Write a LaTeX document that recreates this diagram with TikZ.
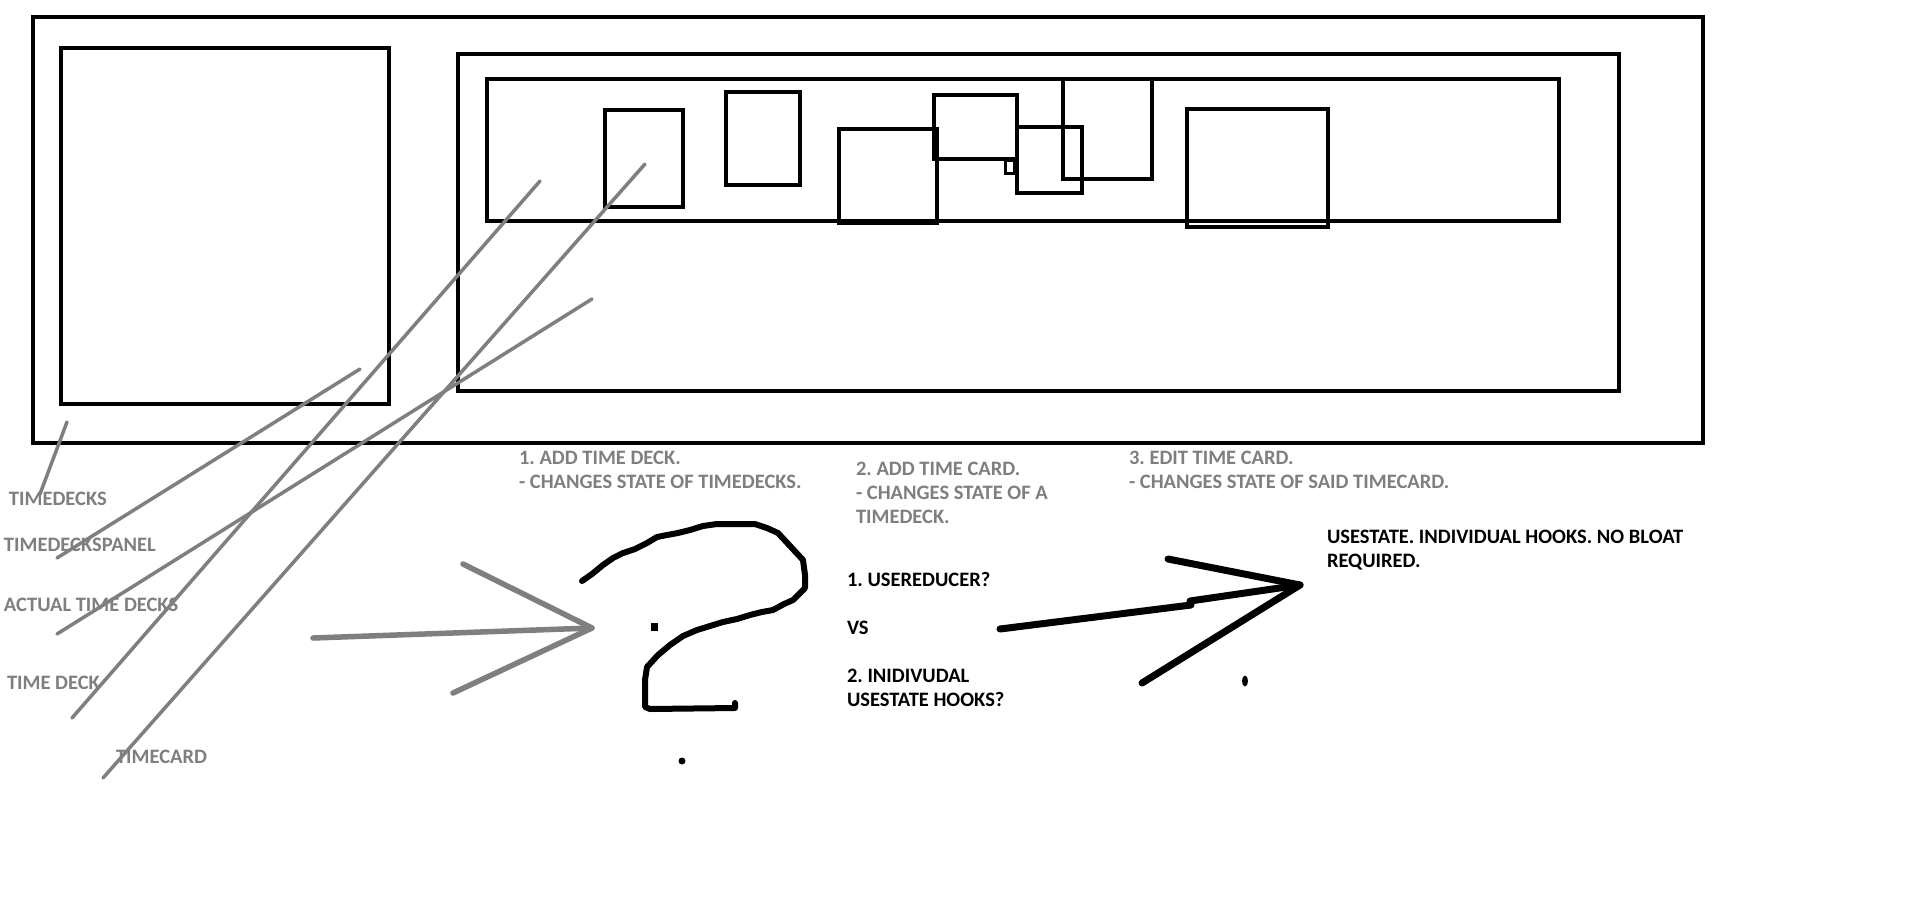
\documentclass[tikz,border=0pt]{standalone}
\usepackage{fontspec}
\setmainfont{Carlito}
\definecolor{pgray}{RGB}{127,127,127}
\tikzset{
  box/.style={draw=black, line width=4.5pt},
  smallbox/.style={draw=black, line width=3pt},
  pointer/.style={draw=pgray, line width=3.5pt, line cap=round},
  grayarrow/.style={draw=pgray, line width=5.5pt, line cap=round, line join=round},
  blackarrow/.style={draw=black, line width=7pt, line cap=round, line join=round},
  qmark/.style={draw=black, line width=6pt, line cap=round, line join=round},
  lbl/.style={font=\fontsize{20.5}{24}\selectfont\bfseries\frenchspacing, anchor=base west, inner sep=0pt, outer sep=0pt},
  glabel/.style={lbl, text=pgray},
  blabel/.style={lbl, text=black}
}
\begin{document}
\begin{tikzpicture}[x=1pt,y=-1pt]
\fill[white] (0,0) rectangle (1914,903);
\useasboundingbox (0,0) rectangle (1914,903);

% frames
\draw[box] (33,17) rectangle (1703,443);
\draw[box] (61,48) rectangle (389,404);
\draw[box] (458,54) rectangle (1619,391);
\draw[box] (487,79) rectangle (1559,221);
% cards in the strip
\draw[box] (605,110) rectangle (683,207);
\draw[box] (726,92) rectangle (800,185);
\draw[box] (839,129) rectangle (937,223);
\draw[box] (934,95) rectangle (1017,159);
\draw[smallbox] (1005,160) rectangle (1014,173);
\draw[box] (1017,127) rectangle (1082,193);
\draw[box] (1063,79) rectangle (1152,179);
\draw[box] (1187,109) rectangle (1328,227);

% labels
\node[glabel] (l1) at (9,505) {TIMEDECKS};
\node[glabel] (l2) at (4,551) {TIMEDECKSPANEL};
\node[glabel] (l3) at (4,611) {ACTUAL TIME DECKS};
\node[glabel] (l4) at (7,689) {TIME DECK};
\node[glabel] (l5) at (116,763) {TIMECARD};

% pointer ends
\coordinate (p1a) at (67,422);  \coordinate (p1b) at (40,494);
\coordinate (p2a) at (360,369); \coordinate (p2b) at (57,558);
\coordinate (p3a) at (592,299); \coordinate (p3b) at (57,634);
\coordinate (p4a) at (540,181); \coordinate (p4b) at (72,718);
\coordinate (p5a) at (645,164); \coordinate (p5b) at (103,778);
\draw[pointer] (p1a) -- (p1b);
\draw[pointer] (p2a) -- (p2b);
\draw[pointer] (p3a) -- (p3b);
\draw[pointer] (p4a) -- (p4b);
\draw[pointer] (p5a) -- (p5b);

% step texts
\node[glabel] (s1a) at (519,464) {1. ADD TIME DECK.};
\node[glabel] (s1b) at (519,488) {- CHANGES STATE OF TIMEDECKS.};
\node[glabel] (s2a) at (856,475) {2. ADD TIME CARD.};
\node[glabel] (s2b) at (856,499) {- CHANGES STATE OF A};
\node[glabel] (s2c) at (856,523) {TIMEDECK.};
\node[glabel] (s3a) at (1129,464) {3. EDIT TIME CARD.};
\node[glabel] (s3b) at (1129,488) {- CHANGES STATE OF SAID TIMECARD.};

% gray arrow
\coordinate (ga0) at (313,638);
\coordinate (gat) at (592,628);
\coordinate (gau) at (463,564);
\coordinate (gal) at (453,693);
\draw[grayarrow] (ga0) -- (gat);
\draw[grayarrow] (gau) -- (gat) -- (gal);

% question mark
\draw[qmark] (582,581) -- (592,574) -- (603,565) -- (613,558) -- (623,553) -- (635,549)
  -- (647,543) -- (657,537) -- (667,535) -- (678,533) -- (690,530) -- (703,526)
  -- (717,524) -- (755,524) -- (767,528) -- (778,533) -- (791,547) -- (803,560)
  -- (805,575) -- (805,588) -- (793,600) -- (784,604) -- (773,610) -- (762,612)
  -- (750,615) -- (737,619) -- (723,622) -- (710,626) -- (697,630) -- (683,636)
  -- (670,645) -- (658,655) -- (647,667) -- (645,680) -- (645,707) -- (650,709)
  -- (735,708) -- (735,703);
\fill[black] (651,623) rectangle (658,631);
\fill[black] (682,761) circle (3.5);

% options
\node[blabel] (o1) at (847,586) {1. USEREDUCER?};
\node[blabel] (o2) at (847,634) {VS};
\node[blabel] (o3a) at (847,682) {2. INIDIVUDAL};
\node[blabel] (o3b) at (847,706) {USESTATE HOOKS?};

% black arrow
\coordinate (ba0) at (1000,629);
\coordinate (bak) at (1191,605);
\coordinate (bak2) at (1190,601);
\coordinate (bat) at (1300,585);
\coordinate (bau) at (1168,559);
\coordinate (bal) at (1142,683);
\draw[blackarrow] (ba0) -- (bak);
\draw[blackarrow] (bak2) -- (bat);
\draw[blackarrow] (bau) -- (bat) -- (bal);
\fill[black] (1245,681) ellipse (3 and 5.5);

% conclusion
\node[blabel] (c1) at (1327,543) {USESTATE. INDIVIDUAL HOOKS. NO BLOAT};
\node[blabel] (c2) at (1327,567) {REQUIRED.};
\end{tikzpicture}
\end{document}
